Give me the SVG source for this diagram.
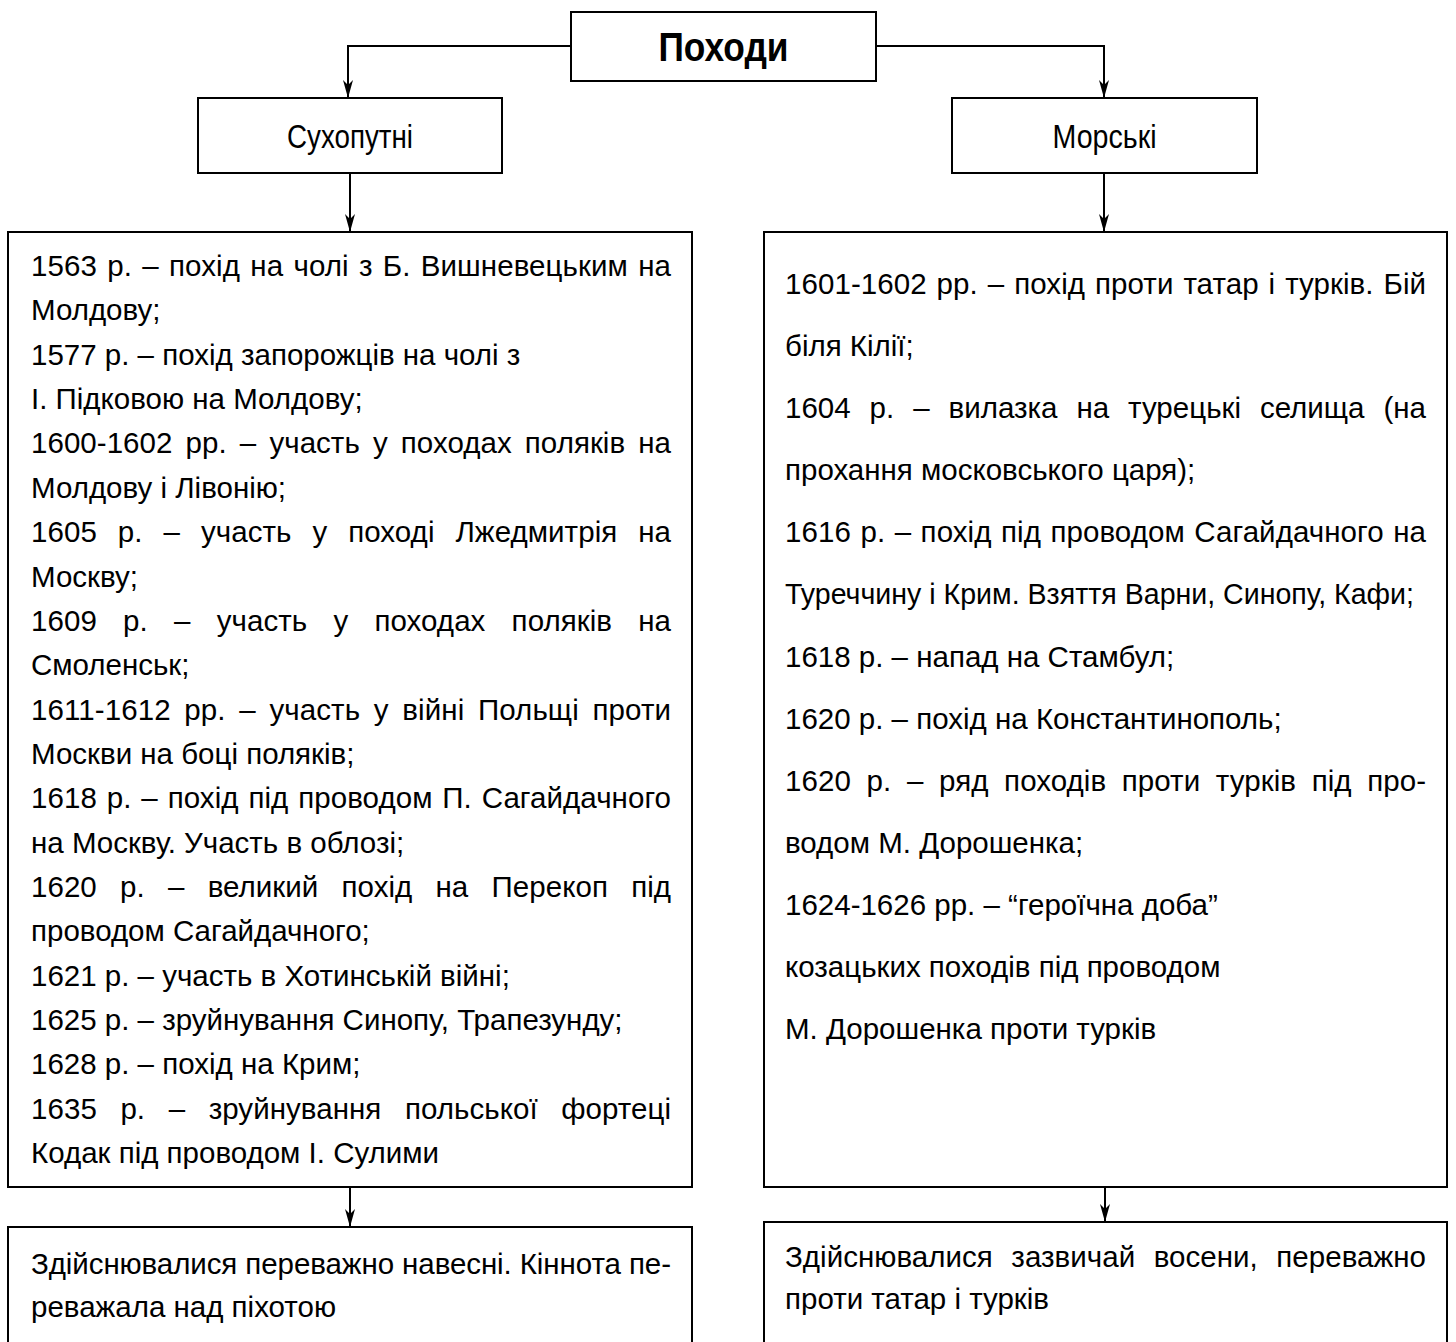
<svg xmlns="http://www.w3.org/2000/svg" width="1456" height="1342" viewBox="0 0 1456 1342">
<defs>
<style>
.box{fill:#fff;stroke:#000;stroke-width:2}
.t{font-family:"Liberation Sans",Arial,sans-serif;font-size:29.5px;fill:#000}
.h{font-family:"Liberation Sans",Arial,sans-serif;font-size:33px;fill:#000}
.title{font-family:"Liberation Sans",Arial,sans-serif;font-size:40px;font-weight:bold;fill:#000}
.conn{fill:none;stroke:#000;stroke-width:2}
</style>
<marker id="arr" viewBox="0 0 18 10" refX="18" refY="5" markerWidth="18" markerHeight="10" markerUnits="userSpaceOnUse" orient="auto">
<path d="M0,0 L18,5 L0,10 L5,5 Z" fill="#000"/>
</marker>
</defs>
<rect width="1456" height="1342" fill="#fff"/>

<g id="connectors">
<path class="conn" d="M571,46 H348 V98" marker-end="url(#arr)"/>
<path class="conn" d="M876,46 H1104 V98" marker-end="url(#arr)"/>
<path class="conn" d="M350,173 V232" marker-end="url(#arr)"/>
<path class="conn" d="M1104,173 V232" marker-end="url(#arr)"/>
<path class="conn" d="M350,1187 V1227" marker-end="url(#arr)"/>
<path class="conn" d="M1105,1187 V1222" marker-end="url(#arr)"/>
</g>

<g id="pokhody">
<rect class="box" x="571" y="12" width="305" height="69"/>
<text class="title" x="723.5" y="61" text-anchor="middle" textLength="130" lengthAdjust="spacingAndGlyphs">Походи</text>
</g>

<g id="sukhoputni">
<rect class="box" x="198" y="98" width="304" height="75"/>
<text class="h" x="350" y="148" text-anchor="middle" textLength="126" lengthAdjust="spacingAndGlyphs">Сухопутні</text>
</g>

<g id="morski">
<rect class="box" x="952" y="98" width="305" height="75"/>
<text class="h" x="1104.5" y="148" text-anchor="middle" textLength="104" lengthAdjust="spacingAndGlyphs">Морські</text>
</g>

<g id="land-list">
<rect class="box" x="8" y="232" width="684" height="955"/>
<text class="t" x="31" y="276" style="word-spacing:2px" textLength="640" lengthAdjust="spacing">1563 р. – похід на чолі з Б. Вишневецьким на</text>
<text class="t" x="31" y="320.4">Молдову;</text>
<text class="t" x="31" y="364.7">1577 р. – похід запорожців на чолі з</text>
<text class="t" x="31" y="409.1">І. Підковою на Молдову;</text>
<text class="t" x="31" y="453.4" style="word-spacing:4.9px" textLength="640" lengthAdjust="spacing">1600-1602 рр. – участь у походах поляків на</text>
<text class="t" x="31" y="497.8">Молдову і Лівонію;</text>
<text class="t" x="31" y="542.1" style="word-spacing:12.7px" textLength="640" lengthAdjust="spacing">1605 р. – участь у поході Лжедмитрія на</text>
<text class="t" x="31" y="586.5">Москву;</text>
<text class="t" x="31" y="630.8" style="word-spacing:18px" textLength="640" lengthAdjust="spacing">1609 р. – участь у походах поляків на</text>
<text class="t" x="31" y="675.2">Смоленськ;</text>
<text class="t" x="31" y="719.5" style="word-spacing:5.4px" textLength="640" lengthAdjust="spacing">1611-1612 рр. – участь у війні Польщі проти</text>
<text class="t" x="31" y="763.9">Москви на боці поляків;</text>
<text class="t" x="31" y="808.2" style="word-spacing:1.6px" textLength="640" lengthAdjust="spacing">1618 р. – похід під проводом П. Сагайдачного</text>
<text class="t" x="31" y="852.6">на Москву. Участь в облозі;</text>
<text class="t" x="31" y="896.9" style="word-spacing:15px" textLength="640" lengthAdjust="spacing">1620 р. – великий похід на Перекоп під</text>
<text class="t" x="31" y="941.3">проводом Сагайдачного;</text>
<text class="t" x="31" y="985.6">1621 р. – участь в Хотинській війні;</text>
<text class="t" x="31" y="1030">1625 р. – зруйнування Синопу, Трапезунду;</text>
<text class="t" x="31" y="1074.3">1628 р. – похід на Крим;</text>
<text class="t" x="31" y="1118.7" style="word-spacing:15.3px" textLength="640" lengthAdjust="spacing">1635 р. – зруйнування польської фортеці</text>
<text class="t" x="31" y="1163">Кодак під проводом І. Сулими</text>
</g>

<g id="sea-list">
<rect class="box" x="764" y="232" width="683" height="955"/>
<text class="t" x="785" y="294" style="word-spacing:1.7px" textLength="641" lengthAdjust="spacing">1601-1602 рр. – похід проти татар і турків. Бій</text>
<text class="t" x="785" y="356.1">біля Кілії;</text>
<text class="t" x="785" y="418.2" style="word-spacing:10.7px" textLength="641" lengthAdjust="spacing">1604 р. – вилазка на турецькі селища (на</text>
<text class="t" x="785" y="480.2">прохання московського царя);</text>
<text class="t" x="785" y="542.3" style="word-spacing:1.2px" textLength="641" lengthAdjust="spacing">1616 р. – похід під проводом Сагайдачного на</text>
<text class="t" x="785" y="604.4" textLength="629" lengthAdjust="spacingAndGlyphs">Туреччину і Крим. Взяття Варни, Синопу, Кафи;</text>
<text class="t" x="785" y="666.5">1618 р. – напад на Стамбул;</text>
<text class="t" x="785" y="728.6">1620 р. – похід на Константинополь;</text>
<text class="t" x="785" y="790.6" style="word-spacing:7.4px" textLength="641" lengthAdjust="spacing">1620 р. – ряд походів проти турків під про-</text>
<text class="t" x="785" y="852.7">водом М. Дорошенка;</text>
<text class="t" x="785" y="914.8">1624-1626 рр. – “героїчна доба”</text>
<text class="t" x="785" y="976.9">козацьких походів під проводом</text>
<text class="t" x="785" y="1039">М. Дорошенка проти турків</text>
</g>

<g id="land-note">
<rect class="box" x="8" y="1227" width="684" height="140"/>
<text class="t" x="31" y="1274" textLength="640" lengthAdjust="spacing">Здійснювалися переважно навесні. Кіннота пе-</text>
<text class="t" x="31" y="1317">реважала над піхотою</text>
</g>

<g id="sea-note">
<rect class="box" x="764" y="1222" width="683" height="145"/>
<text class="t" x="785" y="1267" style="word-spacing:10.3px" textLength="641" lengthAdjust="spacing">Здійснювалися зазвичай восени, переважно</text>
<text class="t" x="785" y="1309">проти татар і турків</text>
</g>
</svg>
